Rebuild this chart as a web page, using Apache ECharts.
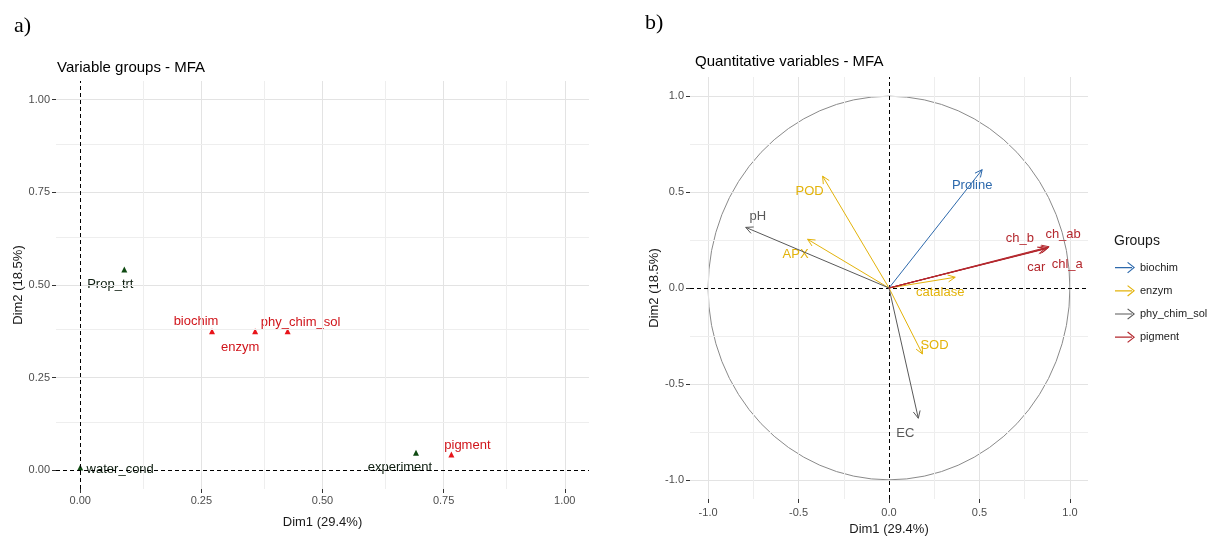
<!DOCTYPE html>
<html>
<head>
<meta charset="utf-8">
<script src="https://cdn.jsdelivr.net/npm/echarts@6/dist/echarts.min.js"></script>
<style>
html,body{margin:0;padding:0;background:#fff;}
#chart{width:1217px;height:536px;}
</style>
</head>
<body>
<div id="chart"></div>
<script>
// ---------- Panel a: variable groups ----------
const groupNames = ['biochim', 'enzym', 'phy_chim_sol', 'pigment', 'Prop_trt', 'experiment', 'water_cond'];
const groupDim1 = [0.272, 0.361, 0.428, 0.766, 0.091, 0.693, 0.0];
const groupDim2 = [0.375, 0.375, 0.375, 0.043, 0.542, 0.048, 0.008];
const groupType = ['active', 'active', 'active', 'active', 'supp', 'supp', 'supp'];

const aMajorTicks = [0, 0.25, 0.5, 0.75, 1];
const aMinorTicks = [0.125, 0.375, 0.625, 0.875];

// ---------- Panel b: quantitative variables ----------
const varNames = ['Proline', 'POD', 'APX', 'catalase', 'SOD', 'pH', 'EC', 'ch_b', 'ch_ab', 'car', 'chl_a'];
const varGroup = ['biochim', 'enzym', 'enzym', 'enzym', 'enzym', 'phy_chim_sol', 'phy_chim_sol', 'pigment', 'pigment', 'pigment', 'pigment'];
const varDim1 = [0.515, -0.367, -0.45, 0.366, 0.185, -0.792, 0.162, 0.862, 0.885, 0.87, 0.88];
const varDim2 = [0.617, 0.583, 0.254, 0.056, -0.344, 0.316, -0.679, 0.205, 0.215, 0.205, 0.21];

const legendGroups = ['biochim', 'enzym', 'phy_chim_sol', 'pigment'];
const bMajorTicks = [-1, -0.5, 0, 0.5, 1];
const bMinorTicks = [-0.75, -0.25, 0.25, 0.75];
const unitCircle = [[0, 0, 1]];

// ---------- styling (not data) ----------
const FONT = 'Liberation Sans, Arial, sans-serif';
const groupColors = { biochim: '#2D69AC', enzym: '#E3B30B', phy_chim_sol: '#595959', pigment: '#B4282E' };
const typeColors = { active: { point: '#E8141A', label: '#D0141A' }, supp: { point: '#0F4A12', label: '#0E1E10' } };
const aLabelOffset = {
  biochim: [-16, -10], enzym: [-15, 16], phy_chim_sol: [13, -9], pigment: [16, -9],
  Prop_trt: [-14, 15], experiment: [-16, 15], water_cond: [40, 2]
};
const bLabelOffset = {
  Proline: [-10, 16], POD: [-13, 15], APX: [-12, 15], catalase: [-15, 15], SOD: [12, -9],
  pH: [12, -11], EC: [-13, 15], ch_b: [-25, -10], ch_ab: [14, -12], car: [-10, 19], chl_a: [19, 17]
};

function gridLines(major, minor) {
  const d = [];
  major.forEach(v => {
    if (v !== 0) {
      d.push({ xAxis: v, lineStyle: { color: '#e3e3e3', width: 1, type: 'solid' } });
      d.push({ yAxis: v, lineStyle: { color: '#e3e3e3', width: 1, type: 'solid' } });
    }
  });
  minor.forEach(v => {
    d.push({ xAxis: v, lineStyle: { color: '#eeeeee', width: 1, type: 'solid' } });
    d.push({ yAxis: v, lineStyle: { color: '#eeeeee', width: 1, type: 'solid' } });
  });
  return d;
}
function zeroLines() {
  return [
    { xAxis: 0, lineStyle: { color: '#000', width: 1, type: [4, 3] } },
    { yAxis: 0, lineStyle: { color: '#000', width: 1, type: [4, 3] } }
  ];
}

const axisLabelStyle = { color: '#4d4d4d', fontSize: 11, fontFamily: FONT };
const axisNameStyle = { color: '#1a1a1a', fontSize: 13, fontFamily: FONT };

function makeAxis(gridIndex, min, max, ticks, fmt, name, nameGap, labelMargin) {
  return {
    type: 'value', gridIndex, min, max,
    name, nameLocation: 'middle', nameGap, nameTextStyle: axisNameStyle,
    axisLine: { show: true, onZero: false, lineStyle: { color: 'rgba(0,0,0,0)' } },
    axisTick: { show: true, length: 4, inside: false, lineStyle: { color: '#333', width: 1 }, customValues: ticks },
    axisLabel: Object.assign({ customValues: ticks, formatter: v => v.toFixed(fmt), margin: labelMargin || 6 }, axisLabelStyle),
    splitLine: { show: false }
  };
}

// Panel a scatter data
const aData = groupNames.map((n, i) => {
  const t = groupType[i];
  return {
    name: n, value: [groupDim1[i], groupDim2[i]],
    itemStyle: { color: typeColors[t].point, opacity: 1 },
    label: { offset: aLabelOffset[n], color: typeColors[t].label }
  };
});

// Panel b arrows
function arrowRender(color) {
  return function (params, api) {
    const x = api.value(0), y = api.value(1);
    const name = varNames[api.value(2)];
    const p0 = api.coord([0, 0]);
    const p1 = api.coord([x, y]);
    const ang = Math.atan2(p1[1] - p0[1], p1[0] - p0[0]);
    const hl = 8, ha = Math.PI / 7;
    const a1 = [p1[0] - hl * Math.cos(ang - ha), p1[1] - hl * Math.sin(ang - ha)];
    const a2 = [p1[0] - hl * Math.cos(ang + ha), p1[1] - hl * Math.sin(ang + ha)];
    const off = bLabelOffset[name] || [0, 0];
    return {
      type: 'group',
      children: [
        { type: 'line', shape: { x1: p0[0], y1: p0[1], x2: p1[0], y2: p1[1] }, style: { stroke: color, lineWidth: 1 } },
        { type: 'polyline', shape: { points: [a1, p1, a2] }, style: { stroke: color, lineWidth: 1, fill: null } },
        { type: 'text', x: p1[0] + off[0], y: p1[1] + off[1],
          style: { text: name, fill: color, font: '13px ' + FONT, align: 'center', verticalAlign: 'middle' } }
      ]
    };
  };
}

const bSeries = legendGroups.map(g => ({
  name: g, type: 'custom', xAxisIndex: 1, yAxisIndex: 1, z: 5,
  itemStyle: { color: groupColors[g] },
  renderItem: arrowRender(groupColors[g]),
  encode: { x: 0, y: 1 },
  data: varNames.map((n, i) => [varDim1[i], varDim2[i], i]).filter((d, i) => varGroup[i] === g)
}));

const arrowIcon = 'path://M0,5.4 L17,5.4 L17,6.6 L0,6.6 Z M12.2,1.2 L13,0.4 L20,6 L13,11.6 L12.2,10.8 L18.3,6 Z';

const option = {
  backgroundColor: '#fff',
  animation: false,
  title: [
    { text: 'a)', left: 9, top: 10, textStyle: { fontFamily: 'Liberation Serif, Times New Roman, serif', fontSize: 22, fontWeight: 'normal', color: '#000' } },
    { text: 'b)', left: 640, top: 7, textStyle: { fontFamily: 'Liberation Serif, Times New Roman, serif', fontSize: 22, fontWeight: 'normal', color: '#000' } },
    { text: 'Variable groups - MFA', left: 52, top: 55, textStyle: { fontFamily: FONT, fontSize: 15, fontWeight: 'normal', color: '#000' } },
    { text: 'Quantitative variables - MFA', left: 690, top: 49, textStyle: { fontFamily: FONT, fontSize: 15, fontWeight: 'normal', color: '#000' } },
    { text: 'Groups', left: 1109, top: 229, textStyle: { fontFamily: FONT, fontSize: 14, fontWeight: 'normal', color: '#1a1a1a' } }
  ],
  legend: {
    data: legendGroups, orient: 'vertical', left: 1110, top: 257,
    itemWidth: 20, itemHeight: 12, itemGap: 12,
    icon: arrowIcon,
    textStyle: { fontFamily: FONT, fontSize: 11, color: '#222' },
    selectedMode: false
  },
  grid: [
    { left: 56, top: 81, width: 533, height: 408, outerBoundsMode: 'none', containLabel: false },
    { left: 690, top: 77, width: 398, height: 422, outerBoundsMode: 'none', containLabel: false }
  ],
  xAxis: [
    makeAxis(0, -0.05, 1.05, aMajorTicks, 2, 'Dim1 (29.4%)', 27),
    makeAxis(1, -1.1, 1.1, bMajorTicks, 1, 'Dim1 (29.4%)', 24, 8)
  ],
  yAxis: [
    makeAxis(0, -0.05, 1.05, aMajorTicks, 2, 'Dim2 (18.5%)', 31),
    makeAxis(1, -1.1, 1.1, bMajorTicks, 1, 'Dim2 (18.5%)', 25)
  ],
  series: [
    { name: 'gridA', type: 'scatter', xAxisIndex: 0, yAxisIndex: 0, data: [], z: 1, silent: true,
      markLine: { silent: true, symbol: 'none', label: { show: false }, animation: false, data: gridLines(aMajorTicks, aMinorTicks) } },
    { name: 'zeroA', type: 'scatter', xAxisIndex: 0, yAxisIndex: 0, data: [], z: 2, silent: true,
      markLine: { silent: true, symbol: 'none', label: { show: false }, animation: false, data: zeroLines() } },
    { name: 'groupsA', type: 'scatter', xAxisIndex: 0, yAxisIndex: 0, z: 4,
      symbol: 'triangle', symbolSize: 6, itemStyle: { opacity: 1 },
      label: { show: true, position: 'inside', formatter: p => p.name, fontFamily: FONT, fontSize: 13,
        align: 'center', verticalAlign: 'middle', textBorderWidth: 0, textBorderColor: 'transparent', textShadowBlur: 0, opacity: 1 },
      data: aData },
    { name: 'gridB', type: 'scatter', xAxisIndex: 1, yAxisIndex: 1, data: [], z: 1, silent: true,
      markLine: { silent: true, symbol: 'none', label: { show: false }, animation: false, data: gridLines(bMajorTicks, bMinorTicks) } },
    { name: 'circleB', type: 'custom', xAxisIndex: 1, yAxisIndex: 1, z: 2, silent: true,
      encode: { x: 0, y: 1 },
      renderItem: function (params, api) {
        const c = api.coord([api.value(0), api.value(1)]);
        const r = api.value(2);
        const s = api.size([r, r]);
        const rx = s[0], ry = s[1];
        const d = 'M' + (c[0] - rx) + ',' + c[1] + ' A' + rx + ',' + ry + ' 0 1 0 ' + (c[0] + rx) + ',' + c[1] +
          ' A' + rx + ',' + ry + ' 0 1 0 ' + (c[0] - rx) + ',' + c[1] + ' Z';
        return { type: 'path', shape: { pathData: d }, style: { stroke: '#8a8a8a', fill: null, lineWidth: 1 } };
      },
      data: unitCircle },
    { name: 'zeroB', type: 'scatter', xAxisIndex: 1, yAxisIndex: 1, data: [], z: 3, silent: true,
      markLine: { silent: true, symbol: 'none', label: { show: false }, animation: false, data: zeroLines() } }
  ].concat(bSeries)
};

const chart = echarts.init(document.getElementById('chart'), null, { renderer: 'canvas' });
chart.setOption(option);
</script>
</body>
</html>
